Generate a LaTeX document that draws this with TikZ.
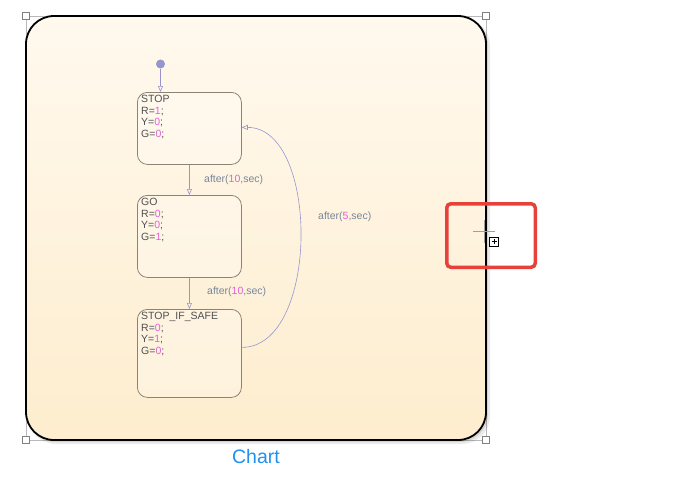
\documentclass[tikz,border=0pt]{standalone}
\usepackage{fontspec}
\setmainfont{Liberation Sans}
\usetikzlibrary{arrows.meta,positioning}
\definecolor{chartbg}{RGB}{255,249,238}
\definecolor{chartbgb}{RGB}{254,237,206}
\definecolor{stbord}{RGB}{140,130,118}
\definecolor{sttext}{RGB}{80,80,80}
\definecolor{numcol}{RGB}{228,95,215}
\definecolor{trcol}{RGB}{150,150,205}
\definecolor{lblcol}{RGB}{120,135,155}
\definecolor{selred}{RGB}{232,65,58}
\definecolor{chartblue}{RGB}{30,144,240}
\newcommand{\nv}[1]{\textcolor{numcol}{#1}}

\begin{document}
\begin{tikzpicture}[x=1pt,y=-1pt,font=\fontsize{10.5}{11.7}\selectfont,
  state/.style={draw=stbord,line width=.8pt,rounded corners=10pt,fill=white,fill opacity=.25,minimum width=104pt,inner sep=0pt,anchor=north west},
  stext/.style={text=sttext,align=left,anchor=north west,inner sep=0pt},
  trans/.style={trcol,line width=.6pt,-{Triangle[open,length=6pt,width=5pt]}},
  lbl/.style={text=lblcol,anchor=west,inner sep=0pt}]
\useasboundingbox (0,0) rectangle (690,487);
\coordinate (c1) at (26,16);
\coordinate (c2) at (486,16);
\coordinate (c3) at (26,440);
\coordinate (c4) at (486,440);
\draw[gray!55,line width=.5pt] (c1) rectangle (c4);
\fill[black,opacity=.08,rounded corners=28pt] (28,18) rectangle (490,444);
\fill[black,opacity=.1,rounded corners=28pt] (27,17) rectangle (488,442);
\draw[black,line width=1.8pt,rounded corners=28pt,top color=chartbg,bottom color=chartbgb] (c1) rectangle (c4);
\foreach \c in {c1,c2,c3,c4}{\draw[gray,fill=white,line width=.6pt] (\c) +(-3.5,-3.5) rectangle +(3.5,3.5);}
\node[state,minimum height=72pt] (stop) at (137,92) {};
\node[state,minimum height=82pt] (go) at (137,195) {};
\node[state,minimum height=88pt] (safe) at (137,309) {};
\node[stext] (stoptxt) at ([shift={(4,3)}]stop.north west) {STOP\\R=\nv{1};\\Y=\nv{0};\\G=\nv{0};};
\node[stext] (gotxt) at ([shift={(4,3)}]go.north west) {GO\\R=\nv{0};\\Y=\nv{0};\\G=\nv{1};};
\node[stext] (safetxt) at ([shift={(4,3)}]safe.north west) {STOP\_IF\_SAFE\\R=\nv{0};\\Y=\nv{1};\\G=\nv{0};};
\node[circle,fill=trcol,inner sep=0pt,minimum size=9pt] (init) at (160.5,64) {};
\draw[trans] (init) -- (init |- stop.north);
\draw[trans] (stop.south) -- (go.north);
\draw[trans] (go.south) -- (safe.north);
\draw[trans] ([yshift=6pt]safe.east) .. controls +(78,0) and +(78,0) .. ([yshift=1pt]stop.east);
\node[lbl] (l1) at (204,179.5) {after(\nv{10},sec)};
\node[lbl] (l2) at (207,292) {after(\nv{10},sec)};
\node[lbl] (l3) at (318,217) {after(\nv{5},sec)};
\node[text=chartblue,font=\fontsize{19.5}{22}\selectfont,inner sep=0pt] (title) at (256,457) {Chart};
\draw[selred,line width=3.5pt,rounded corners=4pt] (446.75,203.75) rectangle (535.25,267.25);
\draw[gray!75,line width=.8pt] (473,231.3) -- (495,231.3) (484.3,220) -- (484.3,243);
\draw[black,fill=white,line width=.6pt] (489.5,237) rectangle (498.5,246);
\draw[black,line width=.6pt] (491.5,241.5) -- (496.5,241.5) (494,239) -- (494,244);
\end{tikzpicture}
\end{document}
